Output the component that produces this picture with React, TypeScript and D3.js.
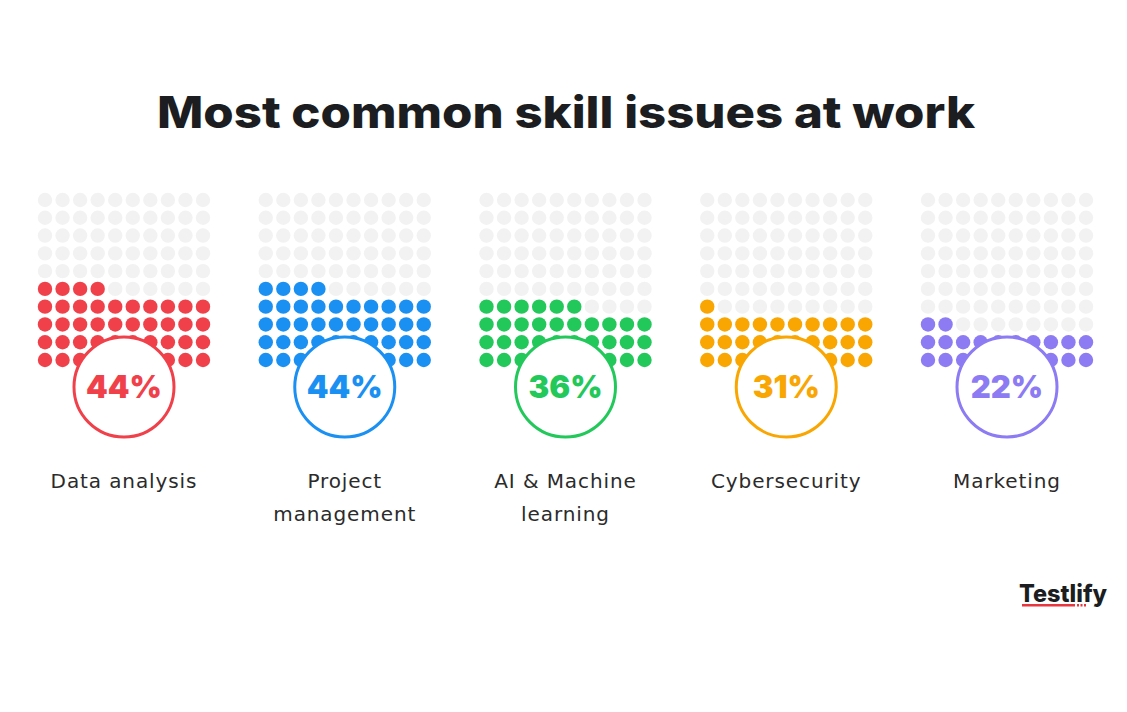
import React from "react";
import * as d3 from "d3";

// chart data
const categories = ["Data analysis", "Project management", "AI & Machine learning", "Cybersecurity", "Marketing"];
const labelLines = [["Data analysis"], ["Project", "management"], ["AI & Machine", "learning"], ["Cybersecurity"], ["Marketing"]];
const values = [44, 44, 36, 31, 22];
const colors = ["#f0414b", "#1a90f2", "#22c95a", "#f9a602", "#8c7bf3"];

const W = 1127;
const H = 712;
const cells = d3.range(100);

const App = () => {
  // centers of each waffle
  const cx = d3.scalePoint<string>().domain(categories).range([124, 1007]);
  // dot offsets inside a waffle
  const dx = d3.scaleLinear().domain([0, 9]).range([-79, 79]);
  const dy = d3.scaleLinear().domain([0, 9]).range([360, 200]); // row 0 at bottom

  return (
    <svg width={W} height={H} style={{ display: "block", position: "absolute", left: 0, top: 0, background: "#fff" }}>
      <rect width={W} height={H} fill="#fff" />
      <text
        x={566}
        y={128}
        textAnchor="middle"
        fontFamily="Inter, sans-serif"
        fontWeight={800}
        fontSize={44}
        fill="#1b1d21"
        textLength={818}
        lengthAdjust="spacingAndGlyphs"
      >
        Most common skill issues at work
      </text>

      {categories.map((cat, k) => {
        const c = cx(cat) as number;
        const v = values[k];
        return (
          <g key={cat}>
            {cells.map(i => {
              const r = Math.floor(i / 10);
              const col = i % 10;
              return (
                <circle
                  key={i}
                  cx={c + dx(col)}
                  cy={dy(r)}
                  r={7.2}
                  fill={i < v ? colors[k] : "#f2f2f2"}
                />
              );
            })}
            <circle cx={c} cy={387} r={50} fill="#fff" stroke={colors[k]} strokeWidth={3} />
            <text
              x={c}
              y={398}
              textAnchor="middle"
              fontFamily="Inter, sans-serif"
              fontWeight={900}
              fontSize={31}
              fill={colors[k]}
            >
              {v}%
            </text>
            {labelLines[k].map((line, j) => (
              <text
                key={j}
                x={c}
                y={488 + j * 33}
                textAnchor="middle"
                fontFamily="'DejaVu Sans', sans-serif"
                fontSize={20}
                letterSpacing={0.9}
                fill="#2b2b2b"
              >
                {line}
              </text>
            ))}
          </g>
        );
      })}

      {/* logo */}
      <text x={1019} y={602} fontFamily="Inter, sans-serif" fontWeight={800} fontSize={24} fill="#1b1d21" textLength={88} lengthAdjust="spacingAndGlyphs">
        Testlify
      </text>
      <rect x={1022} y={604} width={53} height={2.5} fill="#e8363f" />
      {[0, 1, 2].map(i => (
        <rect key={i} x={1077 + i * 3.5} y={604} width={2} height={2.5} fill="#e8363f" />
      ))}
    </svg>
  );
};

export default App;
